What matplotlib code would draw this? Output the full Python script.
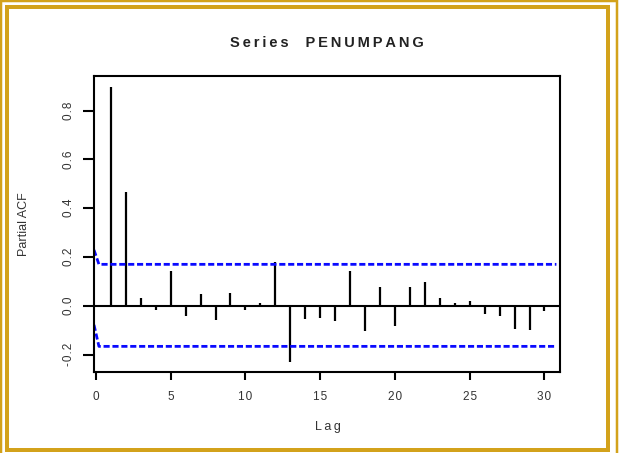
import matplotlib
matplotlib.use("Agg")
import matplotlib.pyplot as plt
from matplotlib.patches import Rectangle

plt.rcParams["font.family"] = ["Liberation Sans", "DejaVu Sans"]

# partial autocorrelation by lag
lags = list(range(1, 31))
pacf = [0.898, 0.468, 0.033, -0.018, 0.144, -0.042, 0.047, -0.056, 0.051, -0.015,
        0.012, 0.180, -0.230, -0.055, -0.049, -0.061, 0.144, -0.105, 0.078, -0.082,
        0.078, 0.096, 0.034, 0.010, 0.020, -0.034, -0.041, -0.096, -0.100, -0.020]

# confidence band as drawn (short kink near lag 0)
band_x = [-0.13, 0.2, 30.8]
band_upper = [0.229, 0.170, 0.170]
band_lower = [-0.078, -0.166, -0.166]

yticks = [-0.2, 0.0, 0.2, 0.4, 0.6, 0.8]
xticks = [0, 5, 10, 15, 20, 25, 30]
title = "Series  PENUMPANG"

W, H = 619, 453
gold = "#d3a21b"
text_col = "#333333"


def spaced(s, gap="\u2009"):
    # the original device draws text letter-spaced
    return gap.join(s)


fig = plt.figure(figsize=(W / 100, H / 100), dpi=100)
fig.patch.set_facecolor("white")


def frame(x0, y0, x1, y1, lw_px):
    # rectangle in pixel coords (top-left origin)
    fig.patches.append(Rectangle((x0 / W, 1 - y1 / H), (x1 - x0) / W, (y1 - y0) / H,
                                 transform=fig.transFigure, fill=False,
                                 edgecolor=gold, linewidth=lw_px * 0.72))


frame(1, 1, 617, 457, 2.5)
frame(7, 6.5, 607.5, 449.5, 4)

ax = fig.add_axes([94 / W, 1 - 372 / H, (560 - 94) / W, (372 - 76) / H])
ax.set_xlim(-0.13, 31.04)
ax.set_ylim(-0.271, 0.9415)

ax.vlines(lags, 0, pacf, colors="black", linewidth=1.6)
ax.axhline(0, color="black", linewidth=1.5)
ax.plot(band_x, band_upper, color="#0a0aff", linewidth=2, dashes=(2.2, 1.0))
ax.plot(band_x, band_lower, color="#0a0aff", linewidth=2, dashes=(2.2, 1.0))

for s in ax.spines.values():
    s.set_linewidth(1.5)

hair = "\u200a"
ax.set_xticks(xticks)
ax.set_xticklabels([spaced(str(t), hair) for t in xticks])
ax.set_yticks(yticks)
ax.set_yticklabels([spaced(f"{t:.1f}", hair) for t in yticks], rotation=90, va="center")
ax.tick_params(axis="y", length=8, width=1.5, pad=6, labelsize=8.5, colors="black")
ax.tick_params(axis="x", length=6, width=1.5, pad=8, labelsize=8.5, colors="black")
for lab in ax.get_xticklabels() + ax.get_yticklabels():
    lab.set_color(text_col)

ax.set_xlabel(spaced("Lag"), fontsize=9, color=text_col, va="center")
ax.xaxis.set_label_coords(0.503, -0.186)
ax.set_ylabel("Partial ACF", fontsize=9, color=text_col, va="center")
ax.yaxis.set_label_coords(-0.15, 0.5)

ax.set_title(spaced(title), fontsize=10.5, fontweight="bold", y=1.111, va="center",
             pad=0, color="#222222")

fig.savefig("out.png", dpi=100)
